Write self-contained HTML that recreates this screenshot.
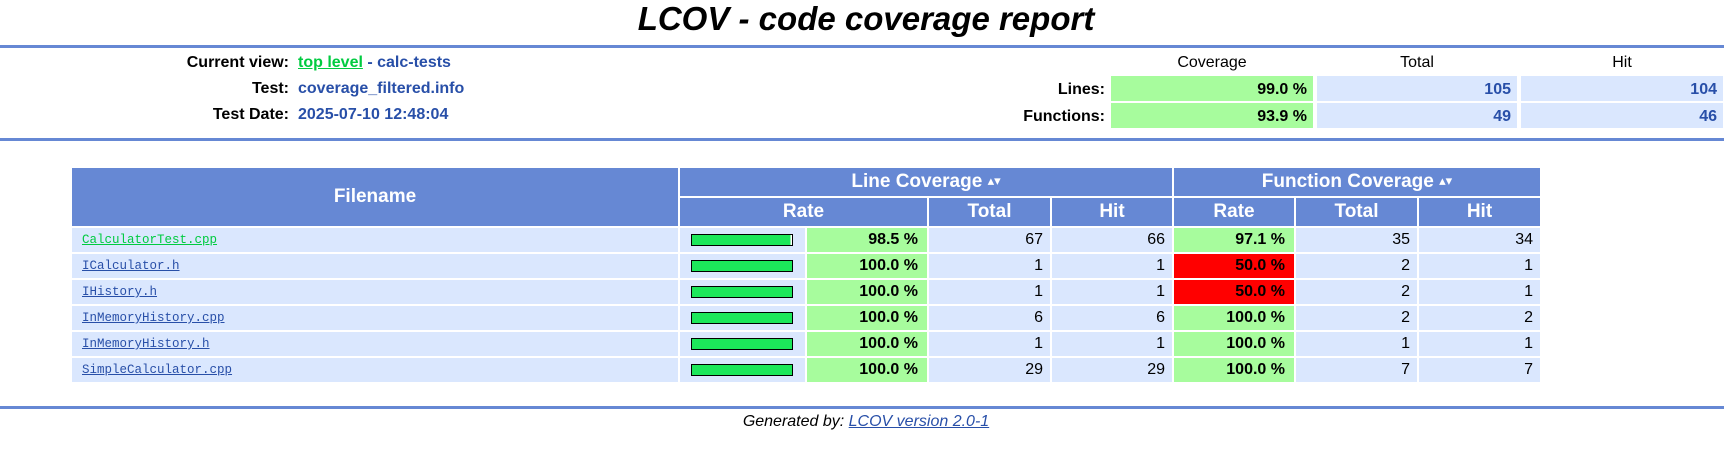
<!DOCTYPE html>
<html><head><meta charset="utf-8"><style>
body{margin:0;width:1732px;height:461px;background:#fff;font-family:"Liberation Sans","DejaVu Sans",sans-serif;position:relative;overflow:hidden}
.abs{position:absolute}
.rule{position:absolute;left:0;width:1724px;height:3px;background:#6688d4}
.lbl{position:absolute;right:1443px;font-weight:bold;font-size:16px;color:#000;text-align:right;white-space:nowrap}
.val{position:absolute;left:298px;font-weight:bold;font-size:16px;color:#284fa8;white-space:nowrap}
a{color:#284fa8}
.sum td{position:absolute;font-size:16px;font-weight:bold;text-align:right;padding-right:6px;box-sizing:border-box;line-height:25px;height:25px}
table.main{position:absolute;left:70px;top:168px;border-collapse:collapse;table-layout:fixed}
table.main td{border:2px solid #fff;padding:0;box-sizing:border-box;font-size:16px}
th{background:#6688d4;color:#fff;font-size:19px;font-weight:bold;border:2px solid #fff;border-top:0;padding:0}
td.f{background:#dae7fe;font-family:"Liberation Mono","DejaVu Sans Mono",monospace;font-size:12.5px !important;padding-left:10px !important}
td.b{background:#dae7fe;padding-left:11px !important}
td.n{background:#dae7fe;text-align:right;padding-right:7px !important}
td.hi{background:#a7fc9d;text-align:right;font-weight:bold;padding-right:9px !important}
td.lo{background:#ff0000;text-align:right;font-weight:bold;padding-right:9px !important}
.bar{width:100px;height:10px;border:1px solid #000;background:#1ce75a}
.arr{font-size:13px;vertical-align:2px}
</style></head><body>
<div class="abs" style="left:0;width:1732px;top:0px;text-align:center;font-size:33px;font-weight:bold;font-style:italic">LCOV - code coverage report</div>
<div class="rule" style="top:45px"></div>

<div class="lbl" style="top:54px">Current view:</div>
<div class="val" style="top:54px"><a href="#" style="color:#00cb40">top level</a> - calc-tests</div>
<div class="lbl" style="top:80px">Test:</div>
<div class="val" style="top:80px">coverage_filtered.info</div>
<div class="lbl" style="top:106px">Test Date:</div>
<div class="val" style="top:106px">2025-07-10 12:48:04</div>

<div class="abs" style="left:1111px;width:202px;top:54px;text-align:center;font-size:16px">Coverage</div>
<div class="abs" style="left:1317px;width:200px;top:54px;text-align:center;font-size:16px">Total</div>
<div class="abs" style="left:1521px;width:202px;top:54px;text-align:center;font-size:16px">Hit</div>
<table class="sum"><tr>
<td style="left:1000px;width:111px;top:76px">Lines:</td>
<td style="left:1111px;width:202px;top:76px;background:#a7fc9d">99.0 %</td>
<td style="left:1317px;width:200px;top:76px;background:#dae7fe;color:#284fa8">105</td>
<td style="left:1521px;width:202px;top:76px;background:#dae7fe;color:#284fa8">104</td>
</tr><tr>
<td style="left:1000px;width:111px;top:103px">Functions:</td>
<td style="left:1111px;width:202px;top:103px;background:#a7fc9d">93.9 %</td>
<td style="left:1317px;width:200px;top:103px;background:#dae7fe;color:#284fa8">49</td>
<td style="left:1521px;width:202px;top:103px;background:#dae7fe;color:#284fa8">46</td>
</tr></table>
<div class="rule" style="top:138px"></div>

<table class="main">
<colgroup><col style="width:608px"><col style="width:127px"><col style="width:122px"><col style="width:123px"><col style="width:122px"><col style="width:122px"><col style="width:123px"><col style="width:123px"></colgroup>
<tr style="height:29px">
<th rowspan="2">Filename</th>
<th colspan="4">Line Coverage <span class="arr">&#x25B4;&#x25BE;</span></th>
<th colspan="3">Function Coverage <span class="arr">&#x25B4;&#x25BE;</span></th>
</tr>
<tr style="height:30px">
<th colspan="2">Rate</th>
<th>Total</th>
<th>Hit</th>
<th>Rate</th>
<th>Total</th>
<th>Hit</th>
</tr>
<tbody id="rows"></tbody>
</table>

<div class="rule" style="top:406px"></div>
<div class="abs" style="left:0;width:1732px;top:413px;text-align:center;font-size:16px;font-style:italic">Generated by: <a href="#">LCOV version 2.0-1</a></div>

<script>
const files=["CalculatorTest.cpp","ICalculator.h","IHistory.h","InMemoryHistory.cpp","InMemoryHistory.h","SimpleCalculator.cpp"];
const lineRate=[98.5,100.0,100.0,100.0,100.0,100.0];
const lineTotal=[67,1,1,6,1,29];
const lineHit=[66,1,1,6,1,29];
const funcRate=[97.1,50.0,50.0,100.0,100.0,100.0];
const funcTotal=[35,2,2,2,1,7];
const funcHit=[34,1,1,2,1,7];
const tb=document.getElementById('rows');
files.forEach((f,i)=>{
  const tr=document.createElement('tr');tr.style.height='26px';
  
  
  const c=(cls,html,name,inter)=>{const td=document.createElement('td');td.className=cls;td.innerHTML=html;
    
    
    tr.appendChild(td);};
  c('f','<a href="#" style="color:'+(i==0?'#00cb40':'#284fa8')+'">'+f+'</a>','filename-link','true');
  c('b','<div class="bar" style="background:linear-gradient(90deg,#1ce75a '+lineRate[i]+'%,#fff '+lineRate[i]+'%)"></div>','coverage-bar','false');
  c(lineRate[i]>=90?'hi':'lo',lineRate[i].toFixed(1)+' %','line-rate','false');
  c('n',lineTotal[i],'line-total','false');
  c('n',lineHit[i],'line-hit','false');
  c(funcRate[i]>=75?'hi':'lo',funcRate[i].toFixed(1)+' %','function-rate','false');
  c('n',funcTotal[i],'function-total','false');
  c('n',funcHit[i],'function-hit','false');
  tb.appendChild(tr);
});
</script>
</body></html>
